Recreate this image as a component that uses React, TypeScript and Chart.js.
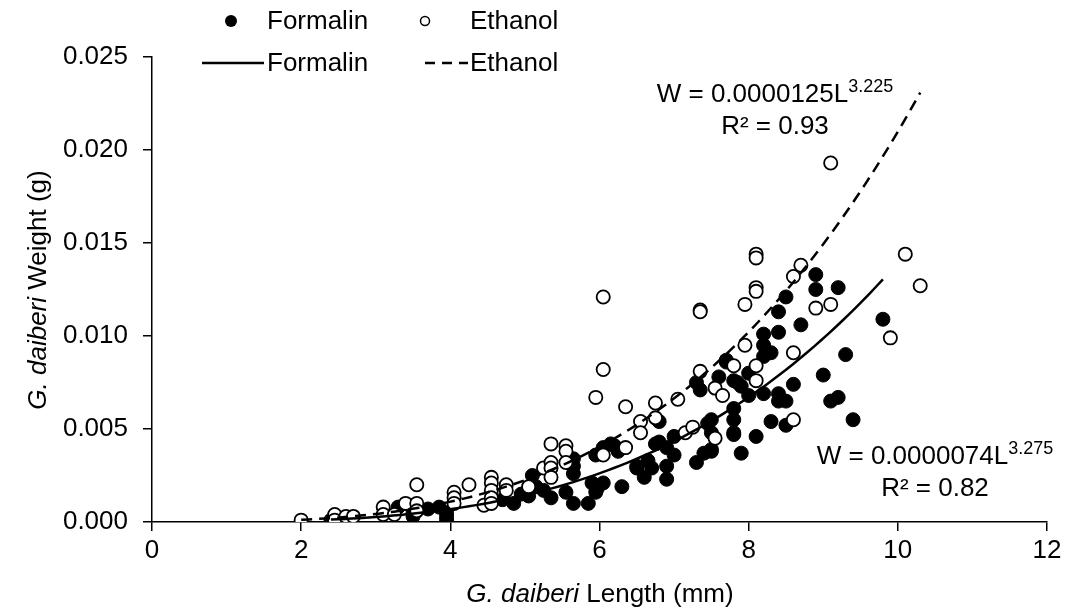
import { useEffect, useRef } from "react";
import { Chart, registerables } from "chart.js";

Chart.register(...registerables);

const FONT = '"Liberation Sans", Arial, sans-serif';

// Axis ticks
const X_TICKS = [0, 2, 4, 6, 8, 10, 12];
const Y_TICKS = [0, 0.005, 0.01, 0.015, 0.02, 0.025];

// Formalin (filled circles)
const FORMALIN_X = [
  2.4, 3.3, 3.5, 3.5, 3.7, 3.85, 3.95, 3.95, 3.95, 4.7, 4.85, 4.95, 5.05, 5.1, 5.15, 5.25, 5.35, 5.55,
  5.65, 5.65, 5.65, 5.65, 5.85, 5.9, 5.95, 5.95, 5.97, 6.05, 6.05, 6.15, 6.2, 6.25, 6.3, 6.5, 6.5, 6.6,
  6.65, 6.7, 6.75, 6.8, 6.8, 6.9, 6.9, 6.9, 7.0, 7.0, 7.3, 7.3, 7.35, 7.4, 7.45, 7.5, 7.5, 7.5, 7.5,
  7.6, 7.7, 7.7, 7.8, 7.8, 7.8, 7.8, 7.8, 7.85, 7.9, 7.9, 8.0, 8.0, 8.1, 8.2, 8.2, 8.2, 8.2, 8.3, 8.3,
  8.4, 8.4, 8.4, 8.4, 8.5, 8.5, 8.5, 8.6, 8.7, 8.9, 8.9, 9.0, 9.1, 9.2, 9.2, 9.3, 9.4, 9.8,
];
const FORMALIN_Y = [
  0.0001, 0.0008, 0.0005, 0.0003, 0.0007, 0.0008, 0.0001, 0.0005, 0.0003, 0.0012, 0.001, 0.0015, 0.0014,
  0.0025, 0.0019, 0.0017, 0.0013, 0.0016, 0.001, 0.003, 0.0026, 0.0034, 0.001, 0.0021, 0.0016, 0.0036,
  0.0018, 0.0021, 0.004, 0.0042, 0.0041, 0.0038, 0.0019, 0.0029, 0.003, 0.0024, 0.0033, 0.0029, 0.0042,
  0.0043, 0.0054, 0.004, 0.003, 0.0023, 0.0046, 0.0036, 0.0075, 0.0032, 0.0071, 0.0037, 0.0053, 0.0055,
  0.0048, 0.0039, 0.0038, 0.0078, 0.0087, 0.0086, 0.0076, 0.0061, 0.0055, 0.0048, 0.0047, 0.0075, 0.0073,
  0.0037, 0.008, 0.0068, 0.0046, 0.0101, 0.0095, 0.0089, 0.0069, 0.0091, 0.0054, 0.0113, 0.0102, 0.0069,
  0.0065, 0.0121, 0.0065, 0.0052, 0.0074, 0.0106, 0.0133, 0.0125, 0.0079, 0.0065, 0.0067, 0.0126, 0.009,
  0.0055, 0.0109,
];

// Ethanol (open circles)
const ETHANOL_X = [
  2.0, 2.45, 2.45, 2.6, 2.7, 3.1, 3.1, 3.25, 3.4, 3.55, 3.55, 3.55, 4.05, 4.05, 4.05, 4.25, 4.45, 4.55,
  4.55, 4.55, 4.55, 4.55, 4.75, 4.75, 5.05, 5.25, 5.35, 5.35, 5.35, 5.35, 5.55, 5.55, 5.55, 5.95, 6.05,
  6.05, 6.05, 6.35, 6.35, 6.55, 6.55, 6.75, 6.75, 7.05, 7.15, 7.25, 7.35, 7.35, 7.35, 7.55, 7.55, 7.65,
  7.8, 7.95, 7.95, 8.1, 8.1, 8.1, 8.1, 8.1, 8.1, 8.6, 8.6, 8.6, 8.7, 8.9, 9.1, 9.1, 9.9, 10.1, 10.3,
];
const ETHANOL_Y = [
  0.0001, 0.0004, 0.0001, 0.0003, 0.0003, 0.0008, 0.0004, 0.0004, 0.001, 0.002, 0.001, 0.0006, 0.0016,
  0.0013, 0.001, 0.002, 0.0009, 0.0024, 0.0021, 0.0017, 0.0013, 0.001, 0.002, 0.0017, 0.0019, 0.0029,
  0.0042, 0.0032, 0.0029, 0.0024, 0.0041, 0.0038, 0.0032, 0.0067, 0.0121, 0.0082, 0.0036, 0.0062, 0.004,
  0.0054, 0.0048, 0.0064, 0.0056, 0.0066, 0.0048, 0.0051, 0.0114, 0.0113, 0.0081, 0.0072, 0.0045, 0.0068,
  0.0084, 0.0117, 0.0095, 0.0144, 0.0142, 0.0126, 0.0124, 0.0084, 0.0076, 0.0132, 0.0091, 0.0055, 0.0138,
  0.0115, 0.0193, 0.0117, 0.0099, 0.0144, 0.0127,
];

// Power trend lines W = a * L^b (as printed on the chart)
const FORMALIN_FIT = [0.0000074, 3.275];
const ETHANOL_FIT = [0.0000125, 3.225];

const toPoints = (xs: number[], ys: number[]) => xs.map((x, i) => ({ x, y: ys[i] }));

const trend = (xs: number[], fit: number[]) => {
  const lo = Math.min(...xs);
  const hi = Math.max(...xs);
  const pts: { x: number; y: number }[] = [];
  const n = 80;
  for (let i = 0; i <= n; i++) {
    const x = lo + ((hi - lo) * i) / n;
    pts.push({ x, y: fit[0] * Math.pow(x, fit[1]) });
  }
  return pts;
};

type Part = { t: string; it?: boolean; sup?: boolean };

function drawParts(ctx: CanvasRenderingContext2D, parts: Part[], cx: number, cy: number, size: number) {
  const fontOf = (p: Part) =>
    `${p.it ? "italic " : ""}${p.sup ? Math.round(size * 0.68) : size}px ${FONT}`;
  let total = 0;
  const widths = parts.map((p) => {
    ctx.font = fontOf(p);
    const w = ctx.measureText(p.t).width;
    total += w;
    return w;
  });
  let x = cx - total / 2;
  ctx.textAlign = "left";
  ctx.textBaseline = "alphabetic";
  const base = cy + size * 0.36;
  parts.forEach((p, i) => {
    ctx.font = fontOf(p);
    ctx.fillText(p.t, x, p.sup ? base - size * 0.38 : base);
    x += widths[i];
  });
}

const annotations = {
  id: "annotations",
  afterDraw(chart: any) {
    const ctx: CanvasRenderingContext2D = chart.ctx;
    ctx.save();
    ctx.fillStyle = "#000";
    ctx.strokeStyle = "#000";

    // Legend row 1: markers
    ctx.beginPath();
    ctx.arc(231, 21, 6, 0, Math.PI * 2);
    ctx.fill();
    ctx.beginPath();
    ctx.lineWidth = 1.5;
    ctx.arc(425, 21, 4.5, 0, Math.PI * 2);
    ctx.stroke();
    // Legend row 2: lines
    ctx.lineWidth = 2.5;
    ctx.beginPath();
    ctx.moveTo(202, 63);
    ctx.lineTo(264, 63);
    ctx.stroke();
    ctx.setLineDash([10, 7]);
    ctx.beginPath();
    ctx.moveTo(425, 63);
    ctx.lineTo(468, 63);
    ctx.stroke();
    ctx.setLineDash([]);

    ctx.font = `26px ${FONT}`;
    ctx.textAlign = "left";
    ctx.textBaseline = "middle";
    ctx.fillText(chart.data.datasets[0].label, 267, 22);
    ctx.fillText(chart.data.datasets[1].label, 470, 22);
    ctx.fillText(chart.data.datasets[2].label, 267, 64);
    ctx.fillText(chart.data.datasets[3].label, 470, 64);

    // Equations
    drawParts(ctx, [{ t: "W = 0.0000125L" }, { t: "3.225", sup: true }], 775, 93, 26);
    drawParts(ctx, [{ t: "R² = 0.93" }], 775, 125, 26);
    drawParts(ctx, [{ t: "W = 0.0000074L" }, { t: "3.275", sup: true }], 935, 455, 26);
    drawParts(ctx, [{ t: "R² = 0.82" }], 935, 487, 26);

    // Axis titles
    drawParts(ctx, [{ t: "G. daiberi", it: true }, { t: " Length (mm)" }], 600, 593, 26);
    ctx.translate(37, 290);
    ctx.rotate(-Math.PI / 2);
    drawParts(ctx, [{ t: "G. daiberi", it: true }, { t: " Weight (g)" }], 0, 0, 26);
    ctx.restore();
  },
};

export default function App() {
  const ref = useRef<HTMLCanvasElement | null>(null);

  useEffect(() => {
    if (!ref.current) return;
    const chart = new Chart(ref.current, {
      type: "scatter",
      data: {
        datasets: [
          {
            label: "Formalin",
            data: toPoints(FORMALIN_X, FORMALIN_Y),
            backgroundColor: "#000",
            borderColor: "#000",
            borderWidth: 1,
            pointRadius: 7,
            order: 2,
          },
          {
            label: "Ethanol",
            data: toPoints(ETHANOL_X, ETHANOL_Y),
            backgroundColor: "#fff",
            borderColor: "#000",
            borderWidth: 1.8,
            pointRadius: 6.6,
            order: 1,
          },
          {
            type: "line",
            label: "Formalin",
            data: trend(FORMALIN_X, FORMALIN_FIT),
            borderColor: "#000",
            borderWidth: 2.5,
            pointRadius: 0,
            fill: false,
            tension: 0,
            order: 0,
          },
          {
            type: "line",
            label: "Ethanol",
            data: trend(ETHANOL_X, ETHANOL_FIT),
            borderColor: "#000",
            borderWidth: 2.5,
            borderDash: [11, 7],
            pointRadius: 0,
            fill: false,
            tension: 0,
            order: 0,
          },
        ] as any,
      },
      options: {
        responsive: false,
        animation: false,
        layout: { padding: { left: 0, top: 57, right: 30, bottom: 0 } },
        plugins: { legend: { display: false }, tooltip: { enabled: false } },
        scales: {
          x: {
            type: "linear",
            min: 0,
            max: 12,
            afterBuildTicks: (s: any) => {
              s.ticks = X_TICKS.map((v) => ({ value: v }));
            },
            afterFit: (s: any) => {
              s.height = 90;
            },
            grid: { drawOnChartArea: false, drawTicks: true, tickLength: 9, color: "#000", lineWidth: 1.5 },
            border: { display: true, color: "#000", width: 1.5 },
            ticks: { color: "#000", font: { family: FONT, size: 26 }, padding: 4, maxRotation: 0 },
          },
          y: {
            type: "linear",
            min: 0,
            max: 0.025,
            afterBuildTicks: (s: any) => {
              s.ticks = Y_TICKS.map((v) => ({ value: v }));
            },
            afterFit: (s: any) => {
              s.width = 152;
            },
            grid: { drawOnChartArea: false, drawTicks: true, tickLength: 9, color: "#000", lineWidth: 1.5 },
            border: { display: true, color: "#000", width: 1.5 },
            ticks: {
              color: "#000",
              font: { family: FONT, size: 26 },
              padding: 15,
              callback: (v: any) => Number(v).toFixed(3),
            },
          },
        },
      },
      plugins: [annotations],
    });
    return () => chart.destroy();
  }, []);

  return (
    <div style={{ position: "absolute", left: 0, top: 0, width: 1077, height: 612, background: "#fff" }}>
      <canvas ref={ref} width={1077} height={612} style={{ display: "block" }} />
    </div>
  );
}
